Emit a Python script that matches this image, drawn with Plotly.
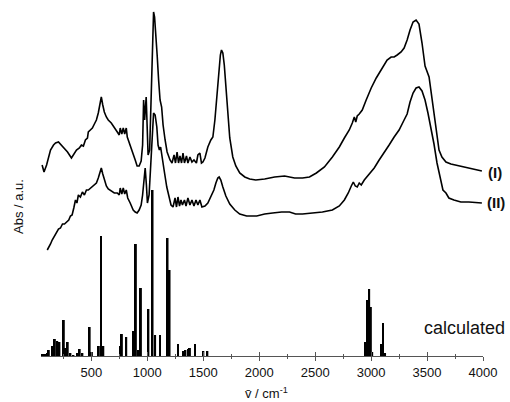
import plotly.graph_objects as go

# ---- data (wavenumber in cm^-1, absorbance in arbitrary units) ----
wn_I = [60, 77, 100, 135, 162, 180, 206, 233, 260, 287, 322, 349, 367, 393, 411, 429, 447, 465, 473, 491,
        509, 527, 545, 562, 576, 589, 602, 616, 634, 651, 678, 705, 732, 749, 758, 772, 785, 798, 812, 821,
        847, 874, 892, 909, 927, 945, 958, 967, 976, 990, 999, 1007, 1021, 1034, 1047, 1056, 1065, 1074, 1088, 1101,
        1114, 1128, 1141, 1159, 1177, 1203, 1221, 1239, 1252, 1266, 1279, 1292, 1306, 1319, 1332, 1350, 1363, 1381, 1399, 1417,
        1439, 1452, 1470, 1484, 1497, 1515, 1541, 1568, 1586, 1604, 1622, 1639, 1653, 1663, 1675, 1688, 1702, 1719, 1737, 1764,
        1791, 1826, 1871, 1915, 1969, 2049, 2138, 2227, 2316, 2387, 2449, 2511, 2583, 2654, 2716, 2761, 2805, 2832, 2850, 2863,
        2876, 2894, 2921, 2956, 3001, 3046, 3099, 3143, 3179, 3206, 3233, 3268, 3295, 3322, 3348, 3375, 3402, 3428, 3455, 3482,
        3518, 3553, 3580, 3607, 3633, 3669, 3713, 3785, 3874, 3990]
abs_I = [191, 184, 191, 206, 211, 213, 214, 211, 208, 204, 198, 203, 206, 208, 211, 210, 216, 218, 224, 226,
         228, 232, 236, 243, 251, 259, 251, 244, 239, 236, 233, 229, 224, 221, 228, 222, 228, 222, 228, 219,
         211, 203, 196, 190, 190, 195, 211, 256, 236, 259, 236, 201, 206, 256, 316, 344, 339, 326, 301, 276,
         256, 249, 231, 216, 204, 196, 193, 201, 193, 204, 193, 200, 193, 203, 193, 200, 193, 199, 194, 196,
         193, 201, 203, 193, 194, 198, 209, 216, 219, 236, 261, 286, 301, 306, 303, 291, 271, 239, 218, 199,
         190, 183, 179, 177, 176, 177, 179, 180, 178, 178, 179, 183, 189, 199, 209, 218, 226, 233, 239, 234,
         240, 242, 246, 256, 268, 278, 288, 296, 299, 299, 301, 304, 308, 316, 326, 334, 336, 332, 313, 290,
         279, 249, 229, 206, 199, 194, 192, 190, 188, 185]

wn_II = [106, 117, 135, 150, 171, 189, 206, 224, 242, 260, 284, 298, 313, 328, 343, 358, 371, 384, 402, 420,
         438, 456, 473, 491, 509, 527, 545, 562, 576, 589, 602, 616, 634, 651, 678, 705, 732, 749, 758, 772,
         785, 798, 812, 825, 847, 874, 892, 909, 927, 945, 958, 972, 981, 992, 1001, 1016, 1034, 1047, 1056, 1070,
         1085, 1096, 1108, 1119, 1132, 1150, 1174, 1194, 1212, 1230, 1248, 1261, 1274, 1288, 1301, 1314, 1332, 1346, 1363, 1381,
         1399, 1417, 1435, 1452, 1470, 1488, 1515, 1541, 1568, 1595, 1613, 1630, 1642, 1657, 1675, 1702, 1737, 1782, 1826, 1888,
         1978, 2049, 2120, 2200, 2271, 2325, 2387, 2476, 2565, 2654, 2716, 2761, 2796, 2823, 2841, 2859, 2876, 2894, 2912, 2939,
         2983, 3028, 3072, 3117, 3161, 3206, 3250, 3295, 3322, 3348, 3375, 3402, 3428, 3455, 3482, 3508, 3535, 3562, 3589, 3615,
         3642, 3669, 3695, 3740, 3802, 3874, 3990]
abs_II = [106, 109, 112, 116, 120, 124, 127, 128, 132, 132, 134, 136, 140, 141, 148, 156, 153, 161, 159, 164,
          161, 166, 166, 168, 170, 171, 173, 178, 184, 188, 182, 176, 170, 167, 165, 163, 163, 161, 168, 162,
          168, 162, 166, 158, 153, 146, 144, 143, 146, 151, 161, 181, 188, 171, 153, 161, 196, 226, 243, 241,
          229, 211, 206, 209, 201, 186, 169, 158, 151, 149, 158, 149, 159, 150, 156, 151, 156, 150, 158, 151,
          156, 150, 156, 151, 156, 149, 150, 153, 159, 166, 173, 178, 179, 176, 169, 160, 152, 146, 142, 140,
          140, 142, 143, 144, 144, 142, 142, 143, 144, 146, 150, 156, 163, 170, 174, 170, 169, 173, 171, 176,
          182, 188, 196, 203, 211, 219, 226, 236, 242, 254, 263, 268, 269, 265, 256, 243, 229, 212, 193, 178,
          166, 163, 158, 156, 154, 154, 153]

calc_wn = [60, 75, 90, 105, 120, 150, 174, 195, 215, 254, 269, 289, 313, 340, 373, 396, 420, 485, 505, 567,
           586, 607, 758, 773, 812, 878, 898, 921, 943, 1010, 1047, 1070, 1114, 1181, 1199, 1274, 1319, 1341, 1366, 1381,
           1426, 1501, 1537, 2947, 2968, 2983, 2998, 3010, 3096, 3107, 3125]
calc_int = [2, 2, 2, 3, 6, 10, 17, 15, 14, 36, 8, 14, 3, 1, 3, 7, 3, 29, 4, 10,
            120, 10, 10, 22, 19, 25, 112, 6, 68, 47, 166, 21, 21, 118, 86, 12, 5, 6, 7, 8,
            12, 5, 5, 14, 56, 67, 49, 4, 12, 33, 3]

tick_vals = [500, 1000, 1500, 2000, 2500, 3000, 3500, 4000]
tick_text = ["500", "1000", "1500", "2000", "2500", "3000", "3500", "4000"]

FONT = "Liberation Sans, Arial, sans-serif"

fig = go.Figure()
fig.add_trace(go.Bar(x=calc_wn, y=calc_int, width=17, marker=dict(color="black", line=dict(width=0)),
                     showlegend=False, hoverinfo="skip"))
fig.add_trace(go.Scatter(x=wn_I, y=abs_I, mode="lines", line=dict(color="black", width=1.6),
                         showlegend=False, hoverinfo="skip"))
fig.add_trace(go.Scatter(x=wn_II, y=abs_II, mode="lines", line=dict(color="black", width=1.6),
                         showlegend=False, hoverinfo="skip"))
# helper trace so the inside-tick axis is drawn
fig.add_trace(go.Scatter(x=[2000], y=[0], xaxis="x2", mode="markers", marker=dict(opacity=0),
                         showlegend=False, hoverinfo="skip"))

axis_common = dict(range=[50, 4000], tickvals=tick_vals, showgrid=False, zeroline=False,
                   tickcolor="#555", tickwidth=1,
                   minor=dict(dtick=250, tick0=0, ticklen=2, tickcolor="#555", tickwidth=1))

fig.update_layout(
    width=510, height=402,
    margin=dict(l=41, r=26.5, t=5, b=46, autoexpand=False),
    paper_bgcolor="white", plot_bgcolor="white",
    barmode="overlay",
    hovermode=False,
    font=dict(family=FONT, size=13, color="#111"),
    xaxis=dict(**axis_common, ticktext=tick_text, ticks="outside", ticklen=4,
               showline=True, linecolor="#555", linewidth=1,
               tickfont=dict(family=FONT, size=13, color="#111")),
    xaxis2=dict(**axis_common, overlaying="x", matches="x", anchor="y", side="bottom",
                ticks="inside", ticklen=4, showticklabels=False, showline=False),
    yaxis=dict(range=[0, 351], showticklabels=False, showgrid=False, zeroline=False,
               showline=False, ticks=""),
)
fig.update_layout(xaxis2_minor_ticks="inside", xaxis_minor_ticks="outside")

fig.add_annotation(text="Abs / a.u.", xref="paper", yref="paper", x=-0.052, y=0.4245,
                   textangle=-90, showarrow=False, xanchor="center", yanchor="middle",
                   font=dict(family=FONT, size=13, color="#111"))
fig.add_annotation(text="v\u0304 / cm<sup>-1</sup>", xref="paper", yref="paper", x=0.511, y=-0.105,
                   showarrow=False, xanchor="center", yanchor="middle",
                   font=dict(family=FONT, size=13, color="#111"))
fig.add_annotation(text="<b>(I)</b>", xref="x", yref="y", x=4000, y=184, xanchor="left", xshift=3,
                   showarrow=False, font=dict(family=FONT, size=15, color="#111"))
fig.add_annotation(text="<b>(II)</b>", xref="x", yref="y", x=4000, y=154, xanchor="left", xshift=2,
                   showarrow=False, font=dict(family=FONT, size=15, color="#111"))
fig.add_annotation(text="calculated", xref="paper", yref="y", x=1.055, y=28, xanchor="right",
                   yanchor="middle", showarrow=False, font=dict(family=FONT, size=18, color="#111"))

fig.write_html("out.html", config={"displayModeBar": False},
               post_script="document.body.style.margin='0';document.body.style.overflow='hidden';")
